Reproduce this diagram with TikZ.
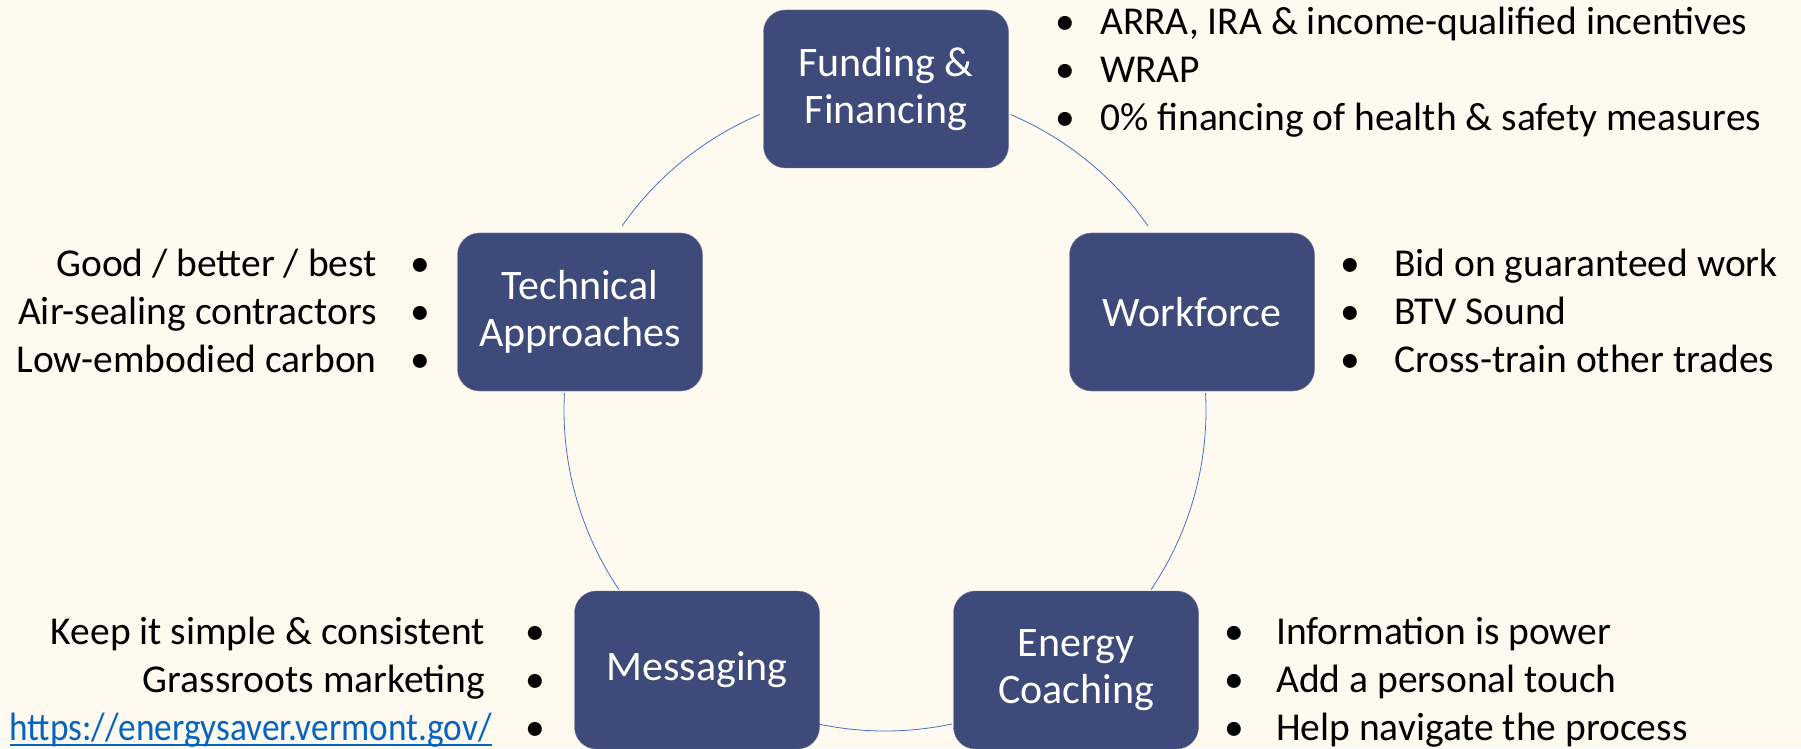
\documentclass[tikz,border=0pt]{standalone}
\usepackage{fontspec}
\setmainfont{Carlito}
\usepackage{tikz}
\usetikzlibrary{positioning}
\definecolor{mycream}{RGB}{255,250,239}
\definecolor{mynavy}{RGB}{62,74,121}
\definecolor{myblue}{RGB}{68,114,196}
\definecolor{mylink}{RGB}{5,99,193}
\tikzstyle{stage}=[draw=mynavy!75!white,fill=mynavy,rounded corners=22pt,minimum width=245pt,minimum height=158pt,inner sep=0pt,text=white,align=center,font=\fontsize{42}{47}\selectfont]
\tikzstyle{points}=[inner sep=0pt,font=\fontsize{39.5}{48}\selectfont]
\tikzstyle{ring}=[draw=myblue,line width=0.8pt]
\newcommand{\rbul}[1]{\makebox[0pt]{•}\hskip #1}
\newcommand{\lbul}[1]{\hskip #1\makebox[0pt]{•}}
\newcommand{\ulink}[1]{\setbox0\hbox{\resizebox{482pt}{\height}{#1}}\rlap{\rule[-6pt]{\wd0}{2.2pt}}\box0}

\begin{document}
\begin{tikzpicture}[x=1pt,y=1pt]
\fill[mycream] (0,0) rectangle (1801,748);
\useasboundingbox (0,0) rectangle (1801,748);
\coordinate (ctr) at (885,338);
% the cycle
\draw[ring] (ctr) ++(67:321) arc[start angle=67,end angle=35,radius=321];
\draw[ring] (ctr) ++(3:321) arc[start angle=3,end angle=-34,radius=321];
\draw[ring] (ctr) ++(-78:321) arc[start angle=-78,end angle=-102,radius=321];
\draw[ring] (ctr) ++(-146:321) arc[start angle=-146,end angle=-183,radius=321];
\draw[ring] (ctr) ++(145:321) arc[start angle=145,end angle=113,radius=321];
\draw (886,659) node [stage] (fund) {Funding \&\\Financing};
\draw (580,436) node [stage] (tech) {Technical\\Approaches};
\draw (1192,436) node [stage] (work) {Workforce};
\draw (1076,78) node [stage] (coach) {Energy\\Coaching};
\draw (697,78) node [stage] (msg) {Messaging};
% the lists (anchored at the last line)
\draw (1065,617) node [points,anchor=base west,align=left] (fundlist)
  {\rbul{35pt}ARRA, IRA \& income-qualified incentives\\\rbul{35pt}WRAP\\\rbul{35pt}0\% financing of health \& safety measures};
\draw (1350,376) node [points,anchor=base west,align=left] (worklist)
  {\rbul{44pt}Bid on guaranteed work\\\rbul{44pt}BTV Sound\\\rbul{44pt}Cross-train other trades};
\draw (1234,8) node [points,anchor=base west,align=left] (coachlist)
  {\rbul{42pt}Information is power\\\rbul{42pt}Add a personal touch\\\rbul{42pt}Help navigate the process};
\draw (421,376) node [points,anchor=base east,align=right] (techlist)
  {Good / better / best\lbul{44pt}\\Air-sealing contractors\lbul{44pt}\\Low-embodied carbon\lbul{44pt}};
\draw (536,8) node [points,anchor=base east,align=right] (msglist)
  {Keep it simple \& consistent\lbul{51pt}\\Grassroots marketing\lbul{51pt}\\\textcolor{mylink}{\ulink{https://energysaver.vermont.gov/}}\lbul{44pt}};
\end{tikzpicture}
\end{document}
